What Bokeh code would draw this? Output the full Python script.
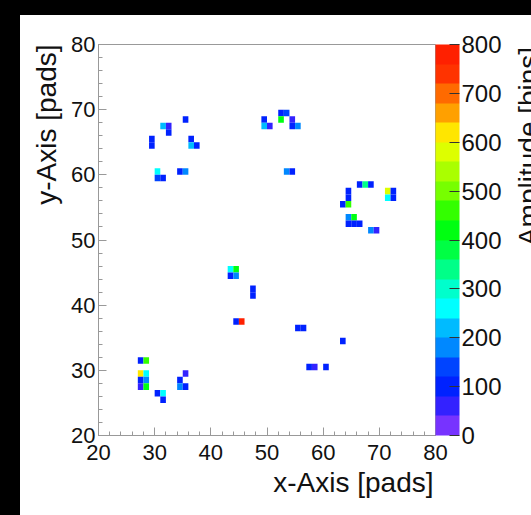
import math
from bokeh.plotting import figure
from bokeh.models import (LinearColorMapper, ColorBar, FixedTicker, Spacer, Title,
                          ColumnDataSource, SingleIntervalTicker)
from bokeh.core.properties import value
from bokeh.layouts import row, column
from bokeh.transform import transform
from bokeh.embed import file_html
from bokeh.resources import INLINE

# pad bins (lower-left corner of each 1x1 pad) and amplitude in bins
pad_x = [35, 31, 32, 32, 29, 29, 36, 36, 37, 30, 30, 31, 34, 35,
         49, 49, 50, 52, 53, 52, 54, 54, 55, 53, 54,
         66, 67, 68, 64, 64, 63, 64, 71, 71, 72, 72, 64, 65, 64, 65, 66, 68, 69,
         43, 44, 43, 44, 47, 47, 44, 45, 55, 56,
         27, 28, 27, 28, 27, 28, 27, 28, 30, 31, 31, 35, 34, 34, 35,
         63, 57, 58, 60]
pad_y = [68, 67, 67, 66, 65, 64, 65, 64, 64, 60, 59, 59, 60, 60,
         68, 67, 67, 69, 69, 68, 68, 67, 67, 60, 60,
         58, 58, 58, 57, 56, 55, 55, 57, 56, 57, 56, 53, 53, 52, 52, 52, 51, 51,
         45, 45, 44, 44, 42, 41, 37, 37, 36, 36,
         31, 31, 29, 29, 28, 28, 27, 27, 26, 26, 25, 29, 28, 27, 27,
         34, 30, 30, 30]
amplitude = [110, 230, 60, 110, 120, 110, 110, 240, 100, 260, 150, 110, 120, 180,
             110, 220, 70, 110, 150, 420, 70, 100, 190, 180, 120,
             110, 330, 120, 110, 110, 120, 440, 580, 260, 110, 110, 190, 420, 110, 120, 110, 170, 50,
             260, 430, 100, 180, 110, 110, 110, 780, 110, 110,
             110, 450, 620, 250, 110, 190, 70, 420, 120, 260, 110, 40, 110, 180, 110,
             110, 110, 60, 110]

colorbar_ticks = [0, 100, 200, 300, 400, 500, 600, 700, 800]
palette = ["#7733FF", "#3322FF", "#0022FF", "#0044FF", "#0088FF", "#00BBFF",
           "#00FFFF", "#00FFCC", "#00FF88", "#00FF44", "#00FF11", "#33FF00",
           "#77FF00", "#AAFF00", "#DDFF00", "#FFE600", "#FFA000", "#FF6A00",
           "#FF3300", "#FF2000"]

src = ColumnDataSource(dict(
    xc=[v + 0.5 for v in pad_x],
    yc=[v + 0.5 for v in pad_y],
    amp=amplitude,
))

FONT = "Liberation Sans"
GRAY = "#999999"
TXT = "#111111"

p = figure(width=486, height=500, x_range=(20, 80), y_range=(20, 80),
           output_backend="svg", toolbar_location=None,
           min_border_left=78, min_border_right=71, min_border_top=29, min_border_bottom=80)
p.background_fill_color = "white"
p.border_fill_color = "white"
p.outline_line_color = GRAY
p.grid.visible = False

mapper = LinearColorMapper(palette=palette, low=0, high=800)
p.rect(x="xc", y="yc", width=1, height=1, source=src,
       fill_color=transform("amp", mapper), line_color=None)

for ax in (p.xaxis[0], p.yaxis[0]):
    ax.ticker = SingleIntervalTicker(interval=10, num_minor_ticks=5)
    ax.axis_line_color = GRAY
    ax.major_tick_line_color = GRAY
    ax.minor_tick_line_color = GRAY
    ax.major_tick_in = 8
    ax.major_tick_out = 0
    ax.minor_tick_in = 4
    ax.minor_tick_out = 0
    ax.major_label_text_font = FONT
    ax.major_label_text_font_size = "22px"
    ax.major_label_text_color = TXT
p.xaxis.major_label_standoff = 9
p.yaxis.major_label_standoff = 3

cb = ColorBar(color_mapper=mapper, ticker=FixedTicker(ticks=colorbar_ticks),
              width=24, margin=2, padding=0, label_standoff=2,
              major_tick_in=10, major_tick_out=0, major_tick_line_color="#333333",
              minor_tick_line_color=None, bar_line_color=None,
              major_label_text_font=FONT, major_label_text_font_size="24px",
              major_label_text_color=TXT,
              background_fill_color=None, border_line_color=None)
p.add_layout(cb, "right")

p.add_layout(Title(text="x-Axis [pads]", align="right", offset=2, standoff=4,
                   text_font=FONT, text_font_size="28px", text_font_style="normal",
                   text_color=TXT), "below")
p.add_layout(Title(text="y-Axis [pads]", align="right", offset=0, standoff=14,
                   text_font=FONT, text_font_size="28px", text_font_style="normal",
                   text_color=TXT), "left")

# narrow strip at the right edge holding the colour-bar title
p2 = figure(width=25, height=500, x_range=(0, 25), y_range=(0, 500),
            output_backend="svg", toolbar_location=None,
            min_border=0, min_border_left=0, min_border_right=0,
            min_border_top=0, min_border_bottom=0)
p2.axis.visible = False
p2.grid.visible = False
p2.outline_line_color = None
p2.background_fill_color = "white"
p2.border_fill_color = "white"
p2.text(x=[6], y=[497], text=["Amplitude [bins]"], angle=math.pi / 2,
        text_align="right", text_baseline="top", text_font=value(FONT),
        text_font_size="28px", text_color=TXT)

left = Spacer(width=20, height=515, styles={"background-color": "black"})
top = Spacer(width=511, height=15, styles={"background-color": "black"})
layout = row(left, column(top, row(p, p2)))

open("out.html", "w").write(file_html(layout, INLINE))
